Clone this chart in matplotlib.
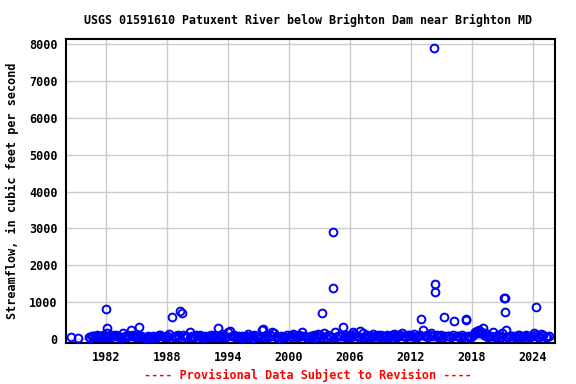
import numpy as np
import matplotlib.pyplot as plt

# field measurement dates (decimal year) and discharge (cfs)
meas_date = [
    1978.5, 1979.2, 1980.3, 1980.6, 1980.9, 1981.1, 1981.3, 1981.5, 1981.7, 1981.9,
    1982.0, 1982.05, 1982.1, 1982.3, 1982.5, 1982.7, 1982.9, 1983.1, 1983.3, 1983.5,
    1983.7, 1983.9, 1984.1, 1984.4, 1984.6, 1984.8, 1985.0, 1985.2, 1985.4, 1985.6,
    1985.8, 1986.0, 1986.3, 1986.6, 1986.9, 1987.2, 1987.5, 1987.8, 1988.0, 1988.2,
    1988.5, 1988.7, 1988.9, 1989.1, 1989.3, 1989.5, 1989.6, 1989.8, 1990.0, 1990.3,
    1990.5, 1990.7, 1991.0, 1991.2, 1991.4, 1991.7, 1991.9, 1992.1, 1992.3, 1992.6,
    1992.9, 1993.0, 1993.2, 1993.4, 1993.7, 1994.0, 1994.2, 1994.4, 1994.7, 1995.0,
    1995.2, 1995.5, 1995.8, 1996.0, 1996.3, 1996.6, 1996.9, 1997.1, 1997.3, 1997.4,
    1997.6, 1997.9, 1998.1, 1998.3, 1998.5, 1998.7, 1999.0, 1999.2, 1999.5, 1999.8,
    2000.1, 2000.4, 2000.7, 2001.0, 2001.3, 2001.5, 2001.8, 2002.0, 2002.3, 2002.6,
    2002.9, 2003.1, 2003.3, 2003.5, 2003.8, 2004.0, 2004.3, 2004.35, 2004.5, 2004.8,
    2005.0, 2005.3, 2005.5, 2005.8, 2006.0, 2006.3, 2006.6, 2006.9, 2007.0, 2007.3,
    2007.5, 2007.8, 2008.0, 2008.3, 2008.6, 2008.9, 2009.1, 2009.4, 2009.7, 2010.0,
    2010.3, 2010.6, 2010.9, 2011.1, 2011.4, 2011.7, 2012.0, 2012.3, 2012.6, 2012.9,
    2013.0, 2013.2, 2013.4, 2013.7, 2014.0, 2014.3, 2014.35, 2014.4, 2014.6, 2014.8,
    2015.0, 2015.3, 2015.5, 2015.8, 2016.0, 2016.3, 2016.5, 2016.8, 2017.0, 2017.4,
    2017.45, 2017.6, 2017.9, 2018.1, 2018.3, 2018.5, 2018.7, 2018.9, 2019.1, 2019.3,
    2019.6, 2019.9, 2020.1, 2020.4, 2020.7, 2021.0, 2021.2, 2021.25, 2021.3, 2021.4,
    2021.6, 2021.9, 2022.1, 2022.4, 2022.7, 2023.0, 2023.3, 2023.6, 2023.9, 2024.1,
    2024.3, 2024.5, 2024.8, 2025.0, 2025.3, 2025.6,
    # extra low-flow visits
    1980.45, 1980.75, 1981.2, 1981.6, 1982.2, 1982.6, 1983.0, 1983.4, 1983.8, 1984.2,
    1984.5, 1985.1, 1985.5, 1986.1, 1986.45, 1987.0, 1987.35, 1987.65, 1988.1, 1988.8,
    1989.2, 1989.9, 1990.4, 1990.85, 1991.3, 1991.55, 1992.0, 1992.45, 1992.75, 1993.3,
    1993.55, 1993.85, 1994.55, 1994.85, 1995.35, 1995.65, 1996.15, 1996.45, 1996.75, 1997.2,
    1997.75, 1998.2, 1998.85, 1999.35, 1999.65, 2000.25, 2000.55, 2000.85, 2001.15, 2001.65,
    2002.15, 2002.45, 2002.75, 2003.2, 2003.65, 2004.15, 2004.65, 2005.15, 2005.65, 2006.15,
    2006.45, 2006.75, 2007.15, 2007.65, 2008.15, 2008.45, 2008.75, 2009.25, 2009.55, 2009.85,
    2010.15, 2010.45, 2010.75, 2011.25, 2011.55, 2011.85, 2012.15, 2012.45, 2012.75, 2013.55,
    2013.85, 2014.15, 2014.7, 2015.15, 2015.65, 2016.15, 2016.65, 2017.15, 2017.75, 2018.2,
    2018.6, 2018.8, 2019.2, 2019.45, 2019.75, 2020.25, 2020.55, 2020.85, 2021.5, 2021.75,
    2022.25, 2022.55, 2022.85, 2023.15, 2023.45, 2023.75, 2024.2, 2024.65, 2024.95, 2025.45,
]
meas_cfs = [
    40, 35, 60, 90, 50, 120, 70, 40, 100, 60,
    800, 300, 150, 60, 40, 110, 70, 90, 50, 30,
    150, 80, 60, 250, 120, 40, 70, 330, 90, 50,
    30, 60, 40, 80, 50, 100, 70, 40, 90, 130,
    600, 60, 80, 100, 750, 700, 120, 40, 60, 200,
    80, 50, 70, 120, 40, 90, 60, 50, 110, 80,
    40, 300, 70, 140, 50, 200, 220, 80, 40, 90,
    60, 30, 70, 140, 80, 120, 60, 90, 250, 280,
    60, 40, 120, 200, 150, 50, 30, 90, 60, 100,
    80, 140, 60, 100, 180, 70, 40, 50, 90, 30,
    130, 100, 700, 150, 120, 90, 2900, 1380, 200, 80,
    70, 330, 60, 40, 100, 200, 80, 50, 220, 150,
    60, 40, 90, 130, 70, 50, 100, 60, 120, 80,
    140, 60, 100, 150, 70, 120, 90, 130, 60, 100,
    550, 250, 80, 60, 150, 7900, 1500, 1280, 120, 80,
    100, 600, 70, 90, 60, 500, 90, 60, 100, 520,
    540, 80, 60, 100, 180, 220, 250, 200, 300, 150,
    60, 90, 200, 80, 50, 150, 1120, 1100, 730, 250,
    60, 90, 70, 40, 100, 60, 120, 40, 80, 150,
    870, 60, 130, 100, 60, 90,
    # extra low-flow visits
    30, 70, 50, 80, 40, 90, 120, 60, 40, 100,
    70, 50, 40, 90, 30, 60, 110, 50, 40, 70,
    60, 90, 40, 110, 60, 30, 80, 50, 120, 40,
    90, 60, 110, 50, 80, 40, 60, 30, 90, 50,
    110, 70, 90, 40, 60, 50, 100, 40, 80, 60,
    70, 110, 50, 60, 40, 50, 60, 90, 120, 50,
    130, 70, 60, 100, 50, 90, 110, 40, 80, 60,
    100, 50, 120, 90, 60, 110, 70, 50, 90, 100,
    120, 70, 60, 50, 80, 100, 70, 50, 40, 140,
    160, 190, 120, 90, 70, 60, 100, 40, 50, 80,
    60, 100, 40, 70, 90, 50, 100, 60, 80, 40,
]

year_ticks = [1982, 1988, 1994, 2000, 2006, 2012, 2018, 2024]
flow_ticks = [0, 1000, 2000, 3000, 4000, 5000, 6000, 7000, 8000]

plt.rcParams["font.family"] = "DejaVu Sans Mono"
plt.rcParams["font.weight"] = "bold"

fig = plt.figure(figsize=(5.76, 3.84), dpi=100)
ax = fig.add_axes([0.1146, 0.1068, 0.849, 0.7916])

ax.plot(meas_date, meas_cfs, linestyle="none", marker="o", markersize=5.6,
        markerfacecolor="none", markeredgecolor="#0000ff", markeredgewidth=1.4,
        clip_on=False, zorder=3)

ax.set_xlim(1978.05, 2026.2)
ax.set_ylim(-110, 8140)
ax.set_xticks(year_ticks)
ax.set_yticks(flow_ticks)
ax.tick_params(length=0, labelsize=8.5, pad=6)
for lab in ax.get_xticklabels() + ax.get_yticklabels():
    lab.set_fontweight("bold")
ax.grid(True, color="#cccccc", linewidth=1)
ax.set_axisbelow(True)
for sp in ax.spines.values():
    sp.set_linewidth(1.5)
    sp.set_color("black")

ax.set_ylabel("Streamflow, in cubic feet per second", fontsize=8.5,
              fontweight="bold", labelpad=7)
fig.text(0.535, 0.948, "USGS 01591610 Patuxent River below Brighton Dam near Brighton MD",
         ha="center", va="center", fontsize=8.4, fontweight="bold")
fig.text(0.535, 0.022, "---- Provisional Data Subject to Revision ----",
         ha="center", va="center", fontsize=8.5, fontweight="bold", color="red")

fig.savefig("out.png", dpi=100)
